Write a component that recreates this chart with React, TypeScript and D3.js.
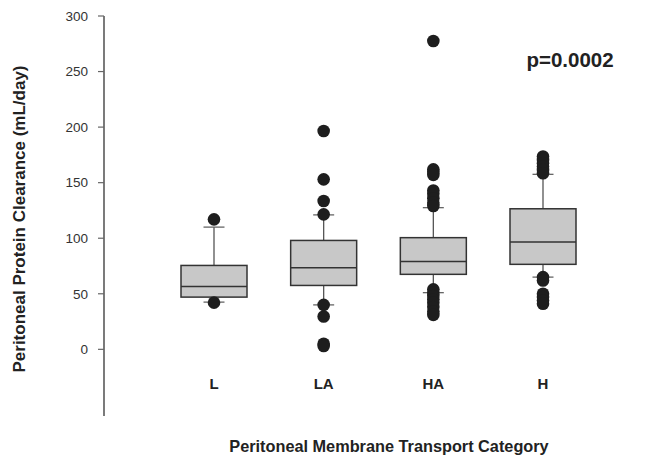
import React from "react";
import * as d3 from "d3";

const categories = ["L", "LA", "HA", "H"];
const q1 = [47, 57.5, 67.5, 76.5];
const medians = [56.5, 73.5, 79, 96.5];
const q3 = [75.5, 98, 100.5, 126.5];
const whiskerLow = [42.5, 40, 51, 65];
const whiskerHigh = [110, 121, 127.5, 157.5];
const outliersL = [117, 42];
const outliersLA = [196.5, 153, 133.5, 121.5, 40, 29.5, 5, 3];
const outliersHA = [277.5, 162, 159.5, 157, 143, 140, 136, 132, 129, 54, 51, 48, 45, 42, 38, 34, 31];
const outliersH = [173.5, 170.5, 167.5, 164.5, 161.5, 158.5, 65, 62, 50, 47, 44, 41];
const outliers = [outliersL, outliersLA, outliersHA, outliersH];
const yTicks = [0, 50, 100, 150, 200, 250, 300];

const W = 648;
const H = 456;

export default function App() {
  const y = d3.scaleLinear().domain([-60, 300]).range([416, 16]);
  const x = d3.scalePoint<string>().domain(categories).range([214, 543]);
  const boxW = 66;
  const capW = 21;
  const font = "'Liberation Sans', Arial, Helvetica, sans-serif";
  const axisX = 104;

  return (
    <svg
      width={W}
      height={H}
      style={{ position: "absolute", left: 0, top: 0, background: "#fff" }}
      fontFamily={font}
    >
      <rect width={W} height={H} fill="#fff" />
      {/* y axis */}
      <line x1={axisX} x2={axisX} y1={y(300)} y2={y(-60)} stroke="#222" strokeWidth={1.2} />
      {yTicks.map((t) => (
        <g key={t}>
          <line x1={axisX - 6} x2={axisX} y1={y(t)} y2={y(t)} stroke="#666" strokeWidth={1.2} />
          <text x={88} y={y(t)} dy="0.35em" textAnchor="end" fontSize={13.5} fill="#333">
            {t}
          </text>
        </g>
      ))}
      <text
        transform={`translate(25,${(y(300) + y(-60)) / 2 + 3}) rotate(-90)`}
        textAnchor="middle"
        fontSize={17}
        fontWeight="bold"
        fill="#222"
      >
        Peritoneal Protein Clearance (mL/day)
      </text>

      {categories.map((c, i) => {
        const cx = x(c) as number;
        return (
          <g key={c}>
            <line x1={cx} x2={cx} y1={y(whiskerHigh[i])} y2={y(q3[i])} stroke="#555" strokeWidth={1.3} />
            <line x1={cx} x2={cx} y1={y(q1[i])} y2={y(whiskerLow[i])} stroke="#555" strokeWidth={1.3} />
            <line x1={cx - capW / 2} x2={cx + capW / 2} y1={y(whiskerHigh[i])} y2={y(whiskerHigh[i])} stroke="#666" strokeWidth={1.3} />
            <line x1={cx - capW / 2} x2={cx + capW / 2} y1={y(whiskerLow[i])} y2={y(whiskerLow[i])} stroke="#666" strokeWidth={1.3} />
            <rect
              x={cx - boxW / 2}
              y={y(q3[i])}
              width={boxW}
              height={y(q1[i]) - y(q3[i])}
              fill="#c8c8c8"
              stroke="#333"
              strokeWidth={1.5}
            />
            <line x1={cx - boxW / 2} x2={cx + boxW / 2} y1={y(medians[i])} y2={y(medians[i])} stroke="#333" strokeWidth={1.5} />
            {outliers[i].map((v, j) => (
              <circle key={j} cx={cx} cy={y(v)} r={6.3} fill="#1e1e1e" />
            ))}
            <text x={cx} y={389} textAnchor="middle" fontSize={15} fontWeight="bold" fill="#222">
              {c}
            </text>
          </g>
        );
      })}

      <text x={389} y={452} textAnchor="middle" fontSize={16.3} fontWeight="bold" fill="#222">
        Peritoneal Membrane Transport Category
      </text>
      <text x={570} y={67} textAnchor="middle" fontSize={20.5} fontWeight="bold" fill="#222">
        p=0.0002
      </text>
    </svg>
  );
}
